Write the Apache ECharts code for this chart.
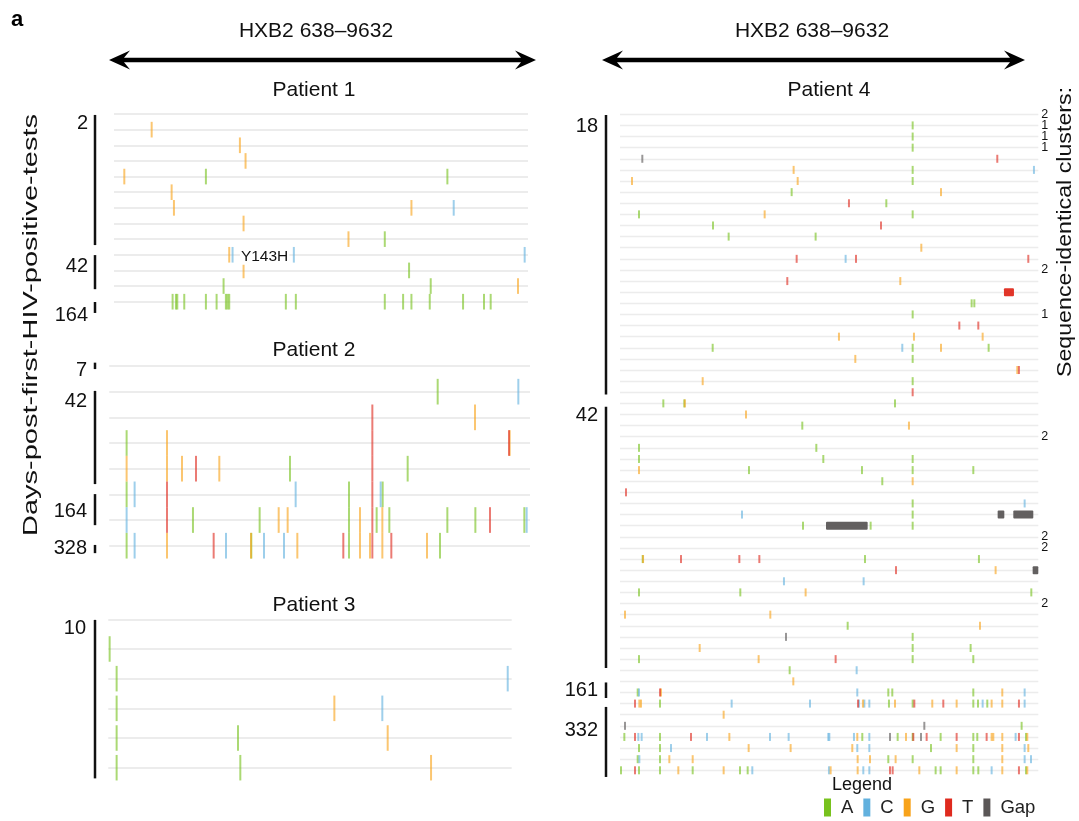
<!DOCTYPE html>
<html>
<head>
<meta charset="utf-8">
<script src="https://cdn.jsdelivr.net/npm/echarts@6/dist/echarts.min.js"></script>
<style>
  html, body { margin: 0; background: #fff; }
  #chart { width: 1079px; height: 821px; }
</style>
</head>
<body>
<div id="chart"></div>
<script>
const FONT = '"Liberation Sans", Arial, Helvetica, sans-serif'

// nucleotide legend
const bases = ['A', 'C', 'G', 'T', 'Gap']
const baseColors = { A: '#78c21e', C: '#62b1de', G: '#f8a31a', T: '#df2a1e', Gap: '#5b5757' }

// alignment length of each patient panel (nt)
const alignLength = [8950, 9086, 8712, 9036]

// one entry per sequence (row): [position, base] or [start, base, end] for runs
const p1Rows = [
  [],
  [[814, 'G']],
  [[2722, 'G']],
  [[2844, 'G']],
  [[223, 'G'], [1987, 'A'], [7207, 'A']],
  [[1246, 'G']],
  [[1296, 'G'], [6430, 'G'], [7344, 'C']],
  [[2801, 'G']],
  [[5069, 'G'], [5854, 'A']],
  [[2491, 'G'], [2563, 'C'], [3888, 'C'], [8878, 'C']],
  [[2801, 'G'], [6379, 'A']],
  [[2369, 'A'], [6847, 'A'], [8734, 'G']],
  [[1267, 'A'], [1339, 'A'], [1368, 'A'], [1519, 'A'], [1987, 'A'], [2218, 'A'], [2419, 'A'], [2455, 'A'],
   [2491, 'A'], [3715, 'A'], [3931, 'A'], [5854, 'A'], [6250, 'A'], [6430, 'A'], [6826, 'A'], [7546, 'A'],
   [7999, 'A'], [8143, 'A']]
]

const p2Rows = [
  [],
  [[7092, 'A'], [8834, 'C']],
  [[5681, 'T'], [7898, 'G']],
  [[374, 'A'], [1246, 'G'], [5681, 'T'], [8633, 'T'], [8647, 'G']],
  [[374, 'G'], [1246, 'G'], [1570, 'G'], [1872, 'T'], [2376, 'G'], [3902, 'A'], [5681, 'T'], [6444, 'A']],
  [[374, 'A'], [547, 'C'], [1246, 'T'], [4025, 'C'], [5177, 'A'], [5681, 'T'], [5861, 'C'], [5904, 'A']],
  [[374, 'C'], [1246, 'T'], [1807, 'A'], [3247, 'A'], [3658, 'G'], [3852, 'G'], [5177, 'A'], [5414, 'G'],
   [5681, 'T'], [5774, 'A'], [5897, 'G'], [6048, 'A'], [7301, 'A'], [7906, 'A'], [8222, 'T'], [8964, 'A'], [9014, 'C']],
  [[374, 'A'], [547, 'C'], [1246, 'G'], [2254, 'T'], [2520, 'C'], [3060, 'G'], [3067, 'A'], [3341, 'C'],
   [3773, 'C'], [4061, 'G'], [5054, 'T'], [5177, 'A'], [5414, 'G'], [5630, 'G'], [5681, 'T'], [5897, 'G'],
   [6091, 'T'], [6862, 'G'], [7142, 'A']]
]

const p3Rows = [
  [],
  [[29, 'A']],
  [[180, 'A'], [8626, 'C']],
  [[180, 'A'], [4882, 'G'], [5918, 'C']],
  [[180, 'A'], [2801, 'A'], [6034, 'G']],
  [[180, 'A'], [2851, 'A'], [6970, 'G']]
]

const p4Rows = [
  [],
  [[6322, 'A']],
  [[6322, 'A']],
  [[6322, 'A']],
  [[482, 'Gap'], [8150, 'T']],
  [[3751, 'G'], [6322, 'A'], [8942, 'C']],
  [[259, 'G'], [3838, 'G'], [6322, 'A']],
  [[3708, 'A'], [6934, 'G']],
  [[4946, 'T'], [5753, 'A']],
  [[410, 'A'], [3125, 'G'], [6322, 'A']],
  [[2009, 'A'], [5638, 'T']],
  [[2347, 'A'], [4226, 'A']],
  [[6509, 'G']],
  [[3816, 'T'], [4874, 'C'], [5098, 'T'], [8820, 'T']],
  [],
  [[3614, 'T'], [6055, 'G']],
  [[8294, 'T', 8510]],
  [[7596, 'A'], [7654, 'A']],
  [[6322, 'A']],
  [[7330, 'T'], [7740, 'T']],
  [[4730, 'G'], [6350, 'G'], [7834, 'G']],
  [[2002, 'A'], [6098, 'C'], [6322, 'A'], [6934, 'G'], [7963, 'A']],
  [[5083, 'G'], [6322, 'A']],
  [[8582, 'G'], [8618, 'T']],
  [[1786, 'G'], [6322, 'A']],
  [[6322, 'T']],
  [[936, 'A'], [1390, 'A'], [1400, 'G'], [5940, 'A']],
  [[2722, 'G']],
  [[3938, 'A'], [6242, 'G']],
  [],
  [[410, 'A'], [4241, 'A']],
  [[410, 'A'], [4392, 'A'], [6322, 'A']],
  [[410, 'G'], [2786, 'A'], [5227, 'A'], [6322, 'A'], [7632, 'A']],
  [[5666, 'A'], [6322, 'G']],
  [[130, 'T']],
  [[6322, 'A'], [8741, 'C']],
  [[2635, 'C'], [6322, 'A'], [8158, 'Gap', 8302], [8496, 'Gap', 8928]],
  [[3953, 'A'], [4450, 'Gap', 5350], [5414, 'A'], [6322, 'A']],
  [],
  [],
  [[490, 'A'], [498, 'G'], [1318, 'T'], [2578, 'T'], [3010, 'T'], [5292, 'A'], [7754, 'A']],
  [[5962, 'T'], [8114, 'G'], [8914, 'Gap', 9036]],
  [[3542, 'C'], [5263, 'C']],
  [[410, 'A'], [2599, 'A'], [4010, 'G'], [8885, 'A']],
  [],
  [[108, 'G'], [3247, 'G']],
  [[4918, 'A'], [7776, 'G']],
  [[3586, 'Gap'], [6322, 'A']],
  [[1721, 'G'], [6322, 'A'], [7574, 'A']],
  [[410, 'A'], [2995, 'G'], [4658, 'T'], [6322, 'A'], [7632, 'A']],
  [[3665, 'A'], [5112, 'C']],
  [[3744, 'G']],
  [[382, 'A'], [410, 'C'], [864, 'T'], [886, 'G'], [5126, 'C'], [5796, 'A'], [5882, 'A'], [7632, 'A'],
   [8258, 'G'], [8741, 'C']],
  [[324, 'T'], [418, 'G'], [454, 'G'], [864, 'A'], [2412, 'C'], [4104, 'C'], [5141, 'T'], [5162, 'C'],
   [5248, 'G'], [5278, 'C'], [5386, 'C'], [5810, 'A'], [5940, 'G'], [6322, 'A'], [6358, 'T'], [6746, 'G'],
   [6984, 'T'], [7272, 'G'], [7632, 'A'], [7733, 'A'], [7834, 'C'], [7934, 'A'], [8028, 'G'], [8258, 'G'],
   [8618, 'T'], [8741, 'C']],
  [[2239, 'G']],
  [[108, 'Gap'], [6574, 'Gap'], [8676, 'A']],
  [[94, 'A'], [324, 'T'], [396, 'C'], [468, 'C'], [864, 'A'], [1534, 'T'], [1879, 'C'], [2362, 'G'],
   [3240, 'C'], [3643, 'C'], [4500, 'C'], [4522, 'C'], [5054, 'C'], [5126, 'G'], [5234, 'A'], [5386, 'C'],
   [5832, 'Gap'], [5998, 'A'], [6178, 'G'], [6322, 'A'], [6336, 'T'], [6502, 'Gap'], [6624, 'T'], [6926, 'A'],
   [7272, 'T'], [7632, 'A'], [7718, 'A'], [7920, 'T'], [8028, 'G'], [8064, 'G'], [8258, 'G'], [8546, 'C'],
   [8618, 'T'], [8770, 'A'], [8798, 'G']],
  [[410, 'A'], [864, 'A'], [1102, 'C'], [2779, 'G'], [3686, 'G'], [5018, 'G'], [5126, 'C'], [5386, 'C'],
   [6718, 'A'], [7272, 'G'], [7632, 'A'], [8258, 'G'], [8741, 'C'], [8820, 'G']],
  [[382, 'A'], [418, 'C'], [864, 'A'], [1066, 'G'], [1570, 'G'], [5134, 'G'], [5400, 'G'], [5796, 'A'],
   [5954, 'G'], [6322, 'A'], [7632, 'A'], [8258, 'G'], [8741, 'C'], [8878, 'C']],
  [[22, 'A'], [324, 'T'], [410, 'A'], [864, 'A'], [1260, 'G'], [1570, 'A'], [2239, 'G'], [2592, 'A'],
   [2758, 'A'], [2858, 'C'], [4514, 'C'], [4550, 'G'], [5134, 'G'], [5256, 'C'], [5386, 'C'], [5832, 'T'],
   [5890, 'T'], [6466, 'G'], [6818, 'A'], [6926, 'A'], [7272, 'G'], [7632, 'A'], [7740, 'A'], [8028, 'C'],
   [8258, 'G'], [8618, 'T'], [8770, 'A'], [8798, 'G']]
]

// sampling days: [label, first row, last row, label row]
const p1Days = [['2', 0.06, 8.38, 0.6], ['42', 9.02, 11.2, 9.76], ['164', 12.02, 12.72, 12.85]]
const p2Days = [['7', -0.13, 0.12, 0.16], ['42', 0.97, 4.6, 1.4], ['164', 4.99, 6.2, 5.68], ['328', 6.97, 7.29, 7.12]]
const p3Days = [['10', 0.02, 5.36, 0.3]]
const p4Days = [['18', 0.06, 25.2, 1.1], ['42', 26.3, 49.8, 27.1], ['161', 51.1, 52.5, 51.8], ['332', 53.3, 59.6, 55.4]]

// sequence-identical cluster sizes in patient 4: [row, size]
const p4Clusters = [[0, '2'], [1, '1'], [2, '1'], [3, '1'], [14, '2'], [18, '1'], [29, '2'], [38, '2'], [39, '2'], [44, '2']]

// annotated mutation in patient 1: [position, row, text]
const p1Notes = [[2722, 9, 'Y143H']]

const panels = [
  { name: 'Patient 1', rows: p1Rows, days: p1Days, grid: { left: 114, top: 114, width: 414, height: 187.7 }, barX: 95, labelX: 88, tick: 1.0 },
  { name: 'Patient 2', rows: p2Rows, days: p2Days, grid: { left: 109.3, top: 366, width: 420.7, height: 179.7 }, barX: 95, labelX: 87, tick: 1.0 },
  { name: 'Patient 3', rows: p3Rows, days: p3Days, grid: { left: 108.3, top: 619.3, width: 403.4, height: 148.4 }, barX: 95, labelX: 86, tick: 0.86 },
  { name: 'Patient 4', rows: p4Rows, days: p4Days, grid: { left: 620, top: 114.3, width: 418.3, height: 656 }, barX: 606, labelX: 598, tick: 0.72 }
]

const chart = echarts.init(document.getElementById('chart'), null, { renderer: 'canvas' })

function markRenderer(ratio) {
  return function (params, api) {
    const a = api.coord([api.value(0), api.value(1)])
    const b = api.coord([api.value(2), api.value(1)])
    const h = api.size([0, 1])[1] * ratio
    const run = b[0] - a[0] > 2
    const w = run ? b[0] - a[0] : 2
    const style = api.style()
    if (run) style.opacity = 0.95
    return {
      type: 'rect',
      shape: { x: run ? a[0] : a[0] - 1, y: a[1] - h / 2, width: w, height: h, r: run ? 1 : 0 },
      style: style
    }
  }
}

function daysRenderer(panel) {
  return function (params, api) {
    const d = panel.days[params.dataIndex]
    const y1 = api.coord([0, d[1]])[1]
    const y2 = api.coord([0, d[2]])[1]
    const yl = api.coord([0, d[3]])[1]
    return {
      type: 'group',
      children: [
        { type: 'rect', shape: { x: panel.barX - 1.25, y: y1, width: 2.5, height: y2 - y1 }, style: { fill: '#111' } },
        {
          type: 'text', x: panel.labelX, y: yl,
          style: { text: d[0], fill: '#111', font: '20px ' + FONT, align: 'right', textAlign: 'right', verticalAlign: 'middle', textVerticalAlign: 'middle' }
        }
      ]
    }
  }
}

const grids = [], xAxes = [], yAxes = [], series = []
panels.forEach((p, i) => {
  grids.push(Object.assign({ containLabel: false }, p.grid))
  xAxes.push({ type: 'value', gridIndex: i, min: 0, max: alignLength[i], show: false })
  yAxes.push({
    type: 'value', gridIndex: i, min: 0, max: p.rows.length - 1, interval: 1, inverse: true,
    axisLine: { show: false }, axisTick: { show: false }, axisLabel: { show: false },
    splitLine: { show: true, lineStyle: { color: '#ececec', width: i === 3 ? 1.3 : 1.8 } }
  })
  bases.forEach(b => {
    const data = []
    p.rows.forEach((row, r) => {
      row.forEach(m => {
        if (m[1] === b) data.push([m[0], r, m.length > 2 ? m[2] : m[0]])
      })
    })
    series.push({
      type: 'custom', name: b, xAxisIndex: i, yAxisIndex: i,
      itemStyle: { color: baseColors[b], opacity: 0.62 },
      encode: { x: 0, y: 1 },
      renderItem: markRenderer(p.tick),
      data: data, silent: true
    })
  })
  series.push({
    type: 'custom', name: 'days', xAxisIndex: i, yAxisIndex: i,
    encode: { x: 0, y: 1 },
    renderItem: daysRenderer(p),
    data: p.days.map(d => [0, d[1]]), silent: true
  })
})

// Y143H label in patient 1
series.push({
  type: 'custom', name: 'notes', xAxisIndex: 0, yAxisIndex: 0,
  encode: { x: 0, y: 1 },
  renderItem: function (params, api) {
    const c = api.coord([api.value(0), api.value(1)])
    return {
      type: 'text', x: c[0], y: c[1] + 2,
      style: { text: p1Notes[params.dataIndex][2], fill: '#111', font: '15.5px ' + FONT, align: 'left', textAlign: 'left', verticalAlign: 'middle', textVerticalAlign: 'middle', backgroundColor: '#fff', padding: [0, 1] }
    }
  },
  data: p1Notes.map(n => [n[0], n[1]]), silent: true
})

// cluster sizes beside patient 4
series.push({
  type: 'custom', name: 'clusters', xAxisIndex: 3, yAxisIndex: 3,
  encode: { x: 0, y: 1 },
  renderItem: function (params, api) {
    const c = api.coord([alignLength[3], api.value(1)])
    return {
      type: 'text', x: c[0] + 3, y: c[1],
      style: { text: p4Clusters[params.dataIndex][1], fill: '#111', font: '12.5px ' + FONT, align: 'left', textAlign: 'left', verticalAlign: 'middle', textVerticalAlign: 'middle' }
    }
  },
  data: p4Clusters.map(c => [alignLength[3], c[0]]), silent: true
})

function arrow(x1, x2, y) {
  const L = 21, h = 9.5, n = 6, t = 2.2
  return {
    type: 'polygon', silent: true,
    shape: { points: [[x1, y], [x1 + L, y - h], [x1 + L - n, y - t], [x2 - L + n, y - t], [x2 - L, y - h], [x2, y],
      [x2 - L, y + h], [x2 - L + n, y + t], [x1 + L - n, y + t], [x1 + L, y + h]] },
    style: { fill: '#000' }
  }
}

function label(text, x, y, size, extra) {
  return Object.assign({
    type: 'text', x: x, y: y, silent: true,
    style: { text: text, fill: '#111', font: size + 'px ' + FONT, align: 'center', textAlign: 'center', verticalAlign: 'middle', textVerticalAlign: 'middle' }
  }, extra || {})
}

const graphics = [
  { type: 'text', x: 11, y: 20, silent: true, style: { text: 'a', fill: '#000', font: 'bold 22px ' + FONT, verticalAlign: 'middle', textVerticalAlign: 'middle' } },
  label('HXB2 638–9632', 316, 31, 21),
  label('HXB2 638–9632', 812, 31, 21),
  arrow(109, 536, 60),
  arrow(602, 1025, 60),
  label('Patient 1', 314, 90, 21),
  label('Patient 2', 314, 350, 21),
  label('Patient 3', 314, 605, 21),
  label('Patient 4', 829, 90, 21),
  label('Days-post-first-HIV-positive-tests', 31, 325, 21, { rotation: Math.PI / 2, scaleX: 1.38 }),
  label('Sequence-identical clusters:', 1065, 232, 20, { rotation: Math.PI / 2, scaleX: 1.16 }),
  label('Legend', 862, 785, 18)
]

chart.setOption({
  animation: false,
  backgroundColor: '#fff',
  grid: grids,
  xAxis: xAxes,
  yAxis: yAxes,
  legend: {
    data: bases, left: 824, top: 798, padding: 0, icon: 'rect',
    itemWidth: 7, itemHeight: 18, itemGap: 10, selectedMode: false,
    itemStyle: { opacity: 1 },
    textStyle: { fontSize: 18.5, fontFamily: FONT, color: '#222', padding: [0, 0, 0, 5] }
  },
  graphic: graphics,
  series: series
})
</script>
</body>
</html>
